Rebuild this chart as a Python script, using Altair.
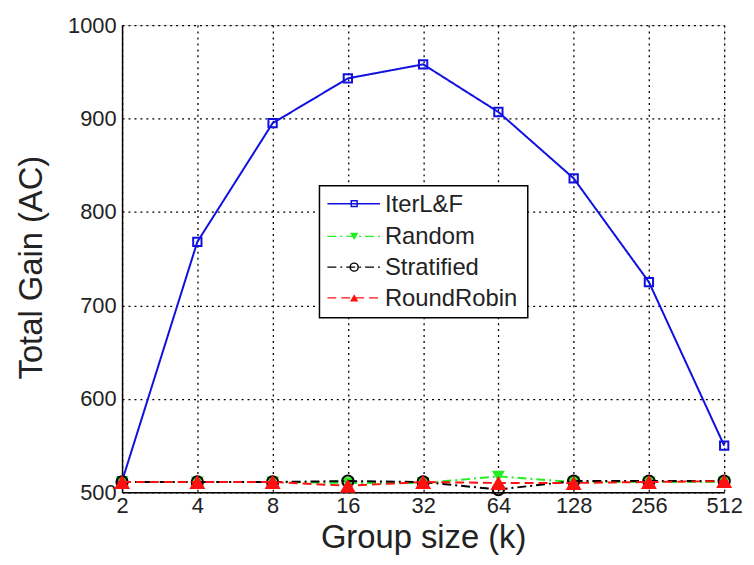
import altair as alt
import pandas as pd

# ---- data ----
group_sizes = [2, 4, 8, 16, 32, 64, 128, 256, 512]
iterlf = [512, 768, 895, 943, 958, 907, 836, 725, 550]
random_vals = [511, 511, 511, 510, 510, 517, 511, 511, 511]
stratified = [511, 511, 511, 512, 511, 503, 512, 512, 512]
roundrobin = [511, 511, 511, 507, 511, 510, 510, 511, 512]
y_ticks = [500, 600, 700, 800, 900, 1000]

series_names = ["IterL&F", "Random", "Stratified", "RoundRobin"]
series_values = [iterlf, random_vals, stratified, roundrobin]

styles = {
    "IterL&F": dict(color="#1010e0", dash=[1, 0], shape="square", filled=False, size=70, lw=2),
    "Random": dict(color="#22ee22", dash=[9, 4, 2, 4], shape="triangle-down", filled=True, size=170, lw=2),
    "Stratified": dict(color="#000000", dash=[9, 4, 2, 4], shape="circle", filled=False, size=130, lw=2),
    "RoundRobin": dict(color="#ff1010", dash=[9, 5], shape="triangle-up", filled=True, size=260, lw=2),
}

FONT = "Liberation Sans"

x_enc = alt.X(
    "k:Q",
    scale=alt.Scale(type="log", base=2, domain=[2, 512]),
    axis=alt.Axis(
        values=group_sizes, format="d", title="Group size (k)",
        titleY=56, titleBaseline="alphabetic", labelPadding=3, labelFlush=False,
        labelOverlap=False,
    ),
)
y_enc = alt.Y(
    "gain:Q",
    scale=alt.Scale(domain=[500, 1000]),
    axis=alt.Axis(
        values=y_ticks, format="d", title="Total Gain (AC)",
        titleX=-91, titleY=244, titleBaseline="middle", titleAngle=-90, labelPadding=6,
        labelFlush=False,
    ),
)

layers = []
for name, vals in zip(series_names, series_values):
    st = styles[name]
    df = pd.DataFrame({"k": group_sizes, "gain": vals, "series": name})
    base = alt.Chart(df).encode(x=x_enc, y=y_enc)
    layers.append(base.mark_line(color=st["color"], strokeDash=st["dash"], strokeWidth=st["lw"]))
    layers.append(base.mark_point(shape=st["shape"], filled=st["filled"], color=st["color"],
                                  size=st["size"], strokeWidth=2, opacity=1))

# ---- legend box (decoration) ----
one = pd.DataFrame({"a": [0]})
layers.append(alt.Chart(one).mark_rect(fill="white", stroke="black", strokeWidth=1.5).encode(
    x=alt.value(199), x2=alt.value(409), y=alt.value(162), y2=alt.value(295)))
legend_y = [180, 213, 244, 275]
for name, yy in zip(series_names, legend_y):
    st = styles[name]
    layers.append(alt.Chart(one).mark_rule(color=st["color"], strokeDash=st["dash"], strokeWidth=1.5).encode(
        x=alt.value(207), x2=alt.value(260), y=alt.value(yy)))
    layers.append(alt.Chart(one).mark_point(shape=st["shape"], filled=st["filled"], color=st["color"],
                                            size=min(st["size"] * 0.5, 70), strokeWidth=1.5, opacity=1).encode(
        x=alt.value(234), y=alt.value(yy)))
    layers.append(alt.Chart(one).mark_text(text=name, align="left", baseline="middle", font=FONT,
                                           fontSize=24, color="#222222").encode(
        x=alt.value(265), y=alt.value(yy + 1)))

chart = alt.layer(*layers).properties(
    width=607, height=471,
    autosize=alt.AutoSizeParams(type="none"),
    padding={"left": 115, "top": 15, "right": 22, "bottom": 63},
).configure_view(
    stroke="black", strokeWidth=1.5, fill="white"
).configure(background="white").configure_axis(
    labelFont=FONT, titleFont=FONT, labelFontSize=22, titleFontSize=33,
    labelColor="#222222", titleColor="#222222", titleFontWeight="normal",
    domainColor="black", domainWidth=1.5, ticks=False,
    grid=True, gridColor="black", gridDash=[2, 4], gridWidth=1.3, gridOpacity=1,
)

chart.save("out.html", embed_options={"renderer": "svg", "actions": False})
